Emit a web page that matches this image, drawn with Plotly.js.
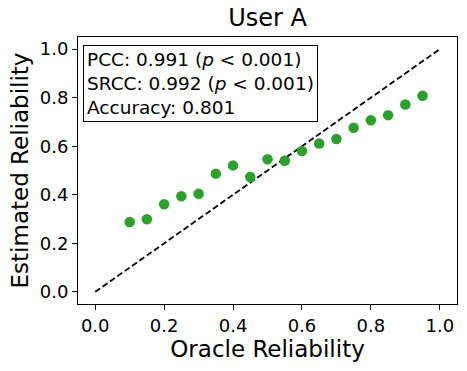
<!DOCTYPE html>
<html>
<head>
<meta charset="utf-8">
<script src="https://cdn.plot.ly/plotly-3.0.1.min.js"></script>
<style>
  html, body { margin: 0; padding: 0; background: #fff; }
  #chart { width: 467px; height: 371px; }
</style>
</head>
<body>
<div id="chart"></div>
<script>
// Oracle vs estimated reliability
const oracle = [0.10, 0.15, 0.20, 0.25, 0.30, 0.35, 0.40, 0.45, 0.50,
                0.55, 0.60, 0.65, 0.70, 0.75, 0.80, 0.85, 0.90, 0.95];
const estimated = [0.288, 0.299, 0.361, 0.394, 0.404, 0.487, 0.521, 0.473, 0.546,
                   0.540, 0.580, 0.611, 0.630, 0.676, 0.707, 0.728, 0.772, 0.808];
const diagX = [0, 1];
const diagY = [0, 1];
const tickVals = [0, 0.2, 0.4, 0.6, 0.8, 1.0];

const statsLines = [
    'PCC: 0.991 (<i>p</i> &lt; 0.001)',
    'SRCC: 0.992 (<i>p</i> &lt; 0.001)',
    'Accuracy: 0.801'
];

const FONT = 'DejaVu Sans, sans-serif';

const traces = [
    {
        x: diagX,
        y: diagY,
        mode: 'lines',
        line: { color: '#000', width: 1.8, dash: '6px,3px' },
        hoverinfo: 'none'
    },
    {
        x: oracle,
        y: estimated,
        mode: 'markers',
        marker: { color: '#2ca02c', size: 10.5 },
        hoverinfo: 'x+y'
    }
];

const axisBase = {
    range: [-0.05, 1.05],
    tickvals: tickVals,
    tickformat: '.1f',
    ticks: 'outside',
    ticklen: 5,
    tickwidth: 1,
    tickcolor: '#000',
    showline: true,
    mirror: true,
    linecolor: '#000',
    linewidth: 1,
    showgrid: false,
    zeroline: false,
    tickfont: { family: FONT, size: 18, color: '#000' }
};

const layout = {
    width: 467,
    height: 371,
    font: { family: FONT, color: '#000' },
    margin: { t: 37, r: 10, b: 67, l: 78 },
    showlegend: false,
    title: {
        text: 'User A',
        font: { family: FONT, size: 24, color: '#000' },
        x: 0.5,
        xref: 'paper',
        y: 0.953,
        yref: 'container',
        yanchor: 'middle'
    },
    xaxis: Object.assign({}, axisBase, {
        title: { text: 'Oracle Reliability', font: { family: FONT, size: 23, color: '#000' }, standoff: 5 }
    }),
    yaxis: Object.assign({}, axisBase, {
        title: { text: 'Estimated Reliability', font: { family: FONT, size: 23, color: '#000' }, standoff: 4 }
    }),
    annotations: [{
        text: statsLines.join('<br>'),
        xref: 'paper',
        yref: 'paper',
        x: 0.014,
        y: 0.971,
        xanchor: 'left',
        yanchor: 'top',
        align: 'left',
        showarrow: false,
        font: { family: FONT, size: 18.5, color: '#000' },
        bgcolor: '#fff',
        bordercolor: '#000',
        borderwidth: 1,
        borderpad: 3
    }],
    paper_bgcolor: '#fff',
    plot_bgcolor: '#fff'
};

Plotly.newPlot('chart', traces, layout, { displayModeBar: false, staticPlot: true });
</script>
</body>
</html>
